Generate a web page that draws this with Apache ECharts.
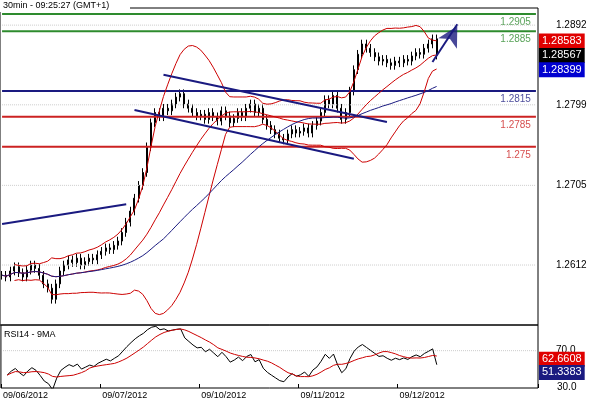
<!DOCTYPE html><html><head><meta charset="utf-8"><script src="https://cdn.jsdelivr.net/npm/echarts@6/dist/echarts.min.js"></script>
<style>body{margin:0;background:#fff}#c{width:590px;height:400px}</style></head><body><div id="c"></div><script>
const dates=['09/06/2012','09/07/2012','09/10/2012','09/11/2012','09/12/2012'];
const closes=[1.2600,1.2598,1.2605,1.2610,1.2603,1.2598,1.2606,1.2612,1.2608,1.2600,1.2590,1.2585,1.2572,1.2590,1.2605,1.2612,1.2618,1.2615,1.2620,1.2612,1.2616,1.2620,1.2618,1.2624,
1.2628,1.2632,1.2630,1.2635,1.2640,1.2650,1.2662,1.2675,1.2690,1.2705,1.2720,1.2750,1.2778,1.2790,1.2785,1.2795,1.2792,1.2800,1.2808,1.2812,1.2800,1.2795,1.2790,1.2786,
1.2788,1.2782,1.2790,1.2785,1.2780,1.2792,1.2786,1.2778,1.2783,1.2790,1.2785,1.2795,1.2800,1.2790,1.2795,1.2782,1.2775,1.2770,1.2765,1.2760,1.2758,1.2765,1.2770,1.2766,
1.2768,1.2772,1.2766,1.2775,1.2780,1.2790,1.2805,1.2800,1.2810,1.2795,1.2782,1.2790,1.2815,1.2840,1.2858,1.2870,1.2865,1.2860,1.2855,1.2850,1.2852,1.2848,1.2845,1.2850,
1.2848,1.2852,1.2850,1.2856,1.2860,1.2858,1.2865,1.2870,1.2876,1.2857];
const levels=[{v:1.2905,c:'#2e8b2e',t:'1.2905'},{v:1.2885,c:'#2e8b2e',t:'1.2885'},{v:1.2815,c:'#1a1a80',t:'1.2815'},{v:1.2785,c:'#cc2222',t:'1.2785'},{v:1.275,c:'#cc2222',t:'1.275'}];
const priceTicks=[1.2612,1.2705,1.2799,1.2892];
const priceTags=[{v:1.28583,bg:'#e00000',t:'1.28583',dy:-13},{v:1.28567,bg:'#000',t:'1.28567',dy:0},{v:1.28399,bg:'#0000d0',t:'1.28399',dy:0}];
const rsiTags=[{v:62.6608,bg:'#e00000',t:'62.6608',dy:0},{v:51.3383,bg:'#1a1a80',t:'51.3383',dy:0}];
const trendLines=[[[0,1.2660],[30,1.2683]],[[39,1.2834],[93,1.2779]],[[32,1.2793],[85,1.2736]],[[104,1.2849],[109.5,1.2893]]];
const arrowTip=[110,1.2898];
const PER_DAY=24,TOTAL=130;
const cats=[];for(let i=0;i<TOTAL;i++)cats.push(i%PER_DAY===0&&i/PER_DAY<dates.length?dates[i/PER_DAY]:''+i);
const ohlc=closes.map((c,i)=>{const o=i?closes[i-1]:c;return [o,c,Math.min(o,c)-0.0005,Math.max(o,c)+0.0005];});
function sma(a,n){return a.map((_,i)=>{const s=a.slice(Math.max(0,i-n+1),i+1).filter(x=>x!=null);return s.length?s.reduce((p,x)=>p+x,0)/s.length:null;});}
const mid=sma(closes,20);
const up=[],lo=[];closes.forEach((_,i)=>{const w=closes.slice(Math.max(0,i-19),i+1);const m=mid[i];const sd=Math.sqrt(w.reduce((s,x)=>s+(x-m)**2,0)/w.length);up.push(i<3?null:m+2*sd);lo.push(i<3?null:m-2*sd);});
const ma50=sma(closes,40);
const rsi=[];let ag=0.0004,al=0.0004;closes.forEach((c,i)=>{if(!i){rsi.push(null);return;}const d=c-closes[i-1];ag=(ag*13+Math.max(d,0))/14;al=(al*13+Math.max(-d,0))/14;rsi.push(100-100/(1+ag/al));});
const rsiMa=sma(rsi,9);
const ch=echarts.init(document.getElementById('c'));
const hline=(v,xi,yi,extra)=>Object.assign({type:'line',xAxisIndex:xi,yAxisIndex:yi,symbol:'none',silent:true,data:[[0,v],[TOTAL-1,v]]},extra);
const tag=(t,xi,yi)=>hline(t.v,xi,yi,{z:20,lineStyle:{opacity:0},endLabel:{show:true,formatter:t.t,color:'#fff',backgroundColor:t.bg,padding:[2,3],fontSize:11,fontFamily:'Arial',distance:3,offset:[0,t.dy]}});
ch.setOption({animation:false,
graphic:[{type:'rect',left:0,top:0,shape:{width:130,height:12},style:{fill:'#fff'},z:100},{type:'text',left:3,top:1,z:101,style:{text:'30min - 09:25:27 (GMT+1)',fontSize:9,fontFamily:'Arial'}},{type:'text',left:4,top:330,style:{text:'RSI14 - 9MA',fontSize:9,fontFamily:'Arial'}},{type:'text',left:557,top:382,style:{text:'30.0',fontSize:10,fontFamily:'Arial'}}],
grid:[{left:0,right:52,top:8,height:317,show:true,borderColor:'#000',borderWidth:1},{left:0,right:52,top:325,height:63,show:true,borderColor:'#000',borderWidth:1}],
xAxis:[{type:'category',data:cats,gridIndex:0,boundaryGap:true,axisLine:{show:false},axisTick:{show:false},axisLabel:{show:false}},
{type:'category',data:cats,gridIndex:1,boundaryGap:true,axisLine:{show:false},axisTick:{show:true,interval:(i)=>i%PER_DAY===0&&i/PER_DAY<dates.length,length:-4,lineStyle:{color:'#000'}},axisLabel:{interval:(i)=>i%PER_DAY===0&&i/PER_DAY<dates.length,align:'left',fontSize:9,fontFamily:'Arial',margin:3,color:'#000'}}],
yAxis:[{gridIndex:0,position:'right',min:1.2542,max:1.2912,splitLine:{show:false},axisLine:{show:false},axisTick:{show:false},axisLabel:{customValues:priceTicks,formatter:v=>v.toFixed(4),fontSize:10,fontFamily:'Arial',color:'#000',margin:18}},
{gridIndex:1,position:'right',min:38,max:92,splitLine:{show:false},axisLine:{show:false},axisTick:{show:false},axisLabel:{customValues:[70],formatter:v=>v.toFixed(1),fontSize:10,fontFamily:'Arial',color:'#000',margin:18}}],
series:[
...priceTicks.map(v=>hline(v,0,0,{lineStyle:{color:'#ccc',width:1,type:'dotted'}})),
hline(70,1,1,{lineStyle:{color:'#ccc',width:1,type:'dotted'}}),
...levels.map(l=>hline(l.v,0,0,{lineStyle:{color:l.c,width:2}})),
{type:'scatter',symbolSize:0,silent:true,data:levels.map(l=>({value:[TOTAL-1,l.v],label:{show:true,position:'left',offset:[0,8],formatter:l.t,color:l.c,fontSize:10,fontFamily:'Arial'}}))},
{type:'candlestick',data:ohlc,barWidth:1.5,itemStyle:{color:'#000',color0:'#000',borderColor:'#000',borderColor0:'#000',borderWidth:1}},
{type:'line',data:up,symbol:'none',lineStyle:{color:'#c00',width:1}},
{type:'line',data:lo,symbol:'none',lineStyle:{color:'#c00',width:1}},
{type:'line',data:mid,symbol:'none',lineStyle:{color:'#c00',width:1}},
{type:'line',data:ma50,symbol:'none',lineStyle:{color:'#1a1a80',width:1}},
...trendLines.map(seg=>({type:'line',data:seg,symbol:'none',lineStyle:{color:'#1a1a80',width:2}})),
{type:'scatter',silent:true,z:10,data:[arrowTip],symbol:'arrow',symbolSize:[16,20],symbolRotate:-29,symbolOffset:[0,6],itemStyle:{color:'#1a1a80'}},
...priceTags.map(t=>tag(t,0,0)),
{type:'line',xAxisIndex:1,yAxisIndex:1,data:rsi,symbol:'none',lineStyle:{color:'#000',width:1}},
{type:'line',xAxisIndex:1,yAxisIndex:1,data:rsiMa,symbol:'none',lineStyle:{color:'#c00',width:1}},
...rsiTags.map(t=>tag(t,1,1))
]});
</script></body></html>
